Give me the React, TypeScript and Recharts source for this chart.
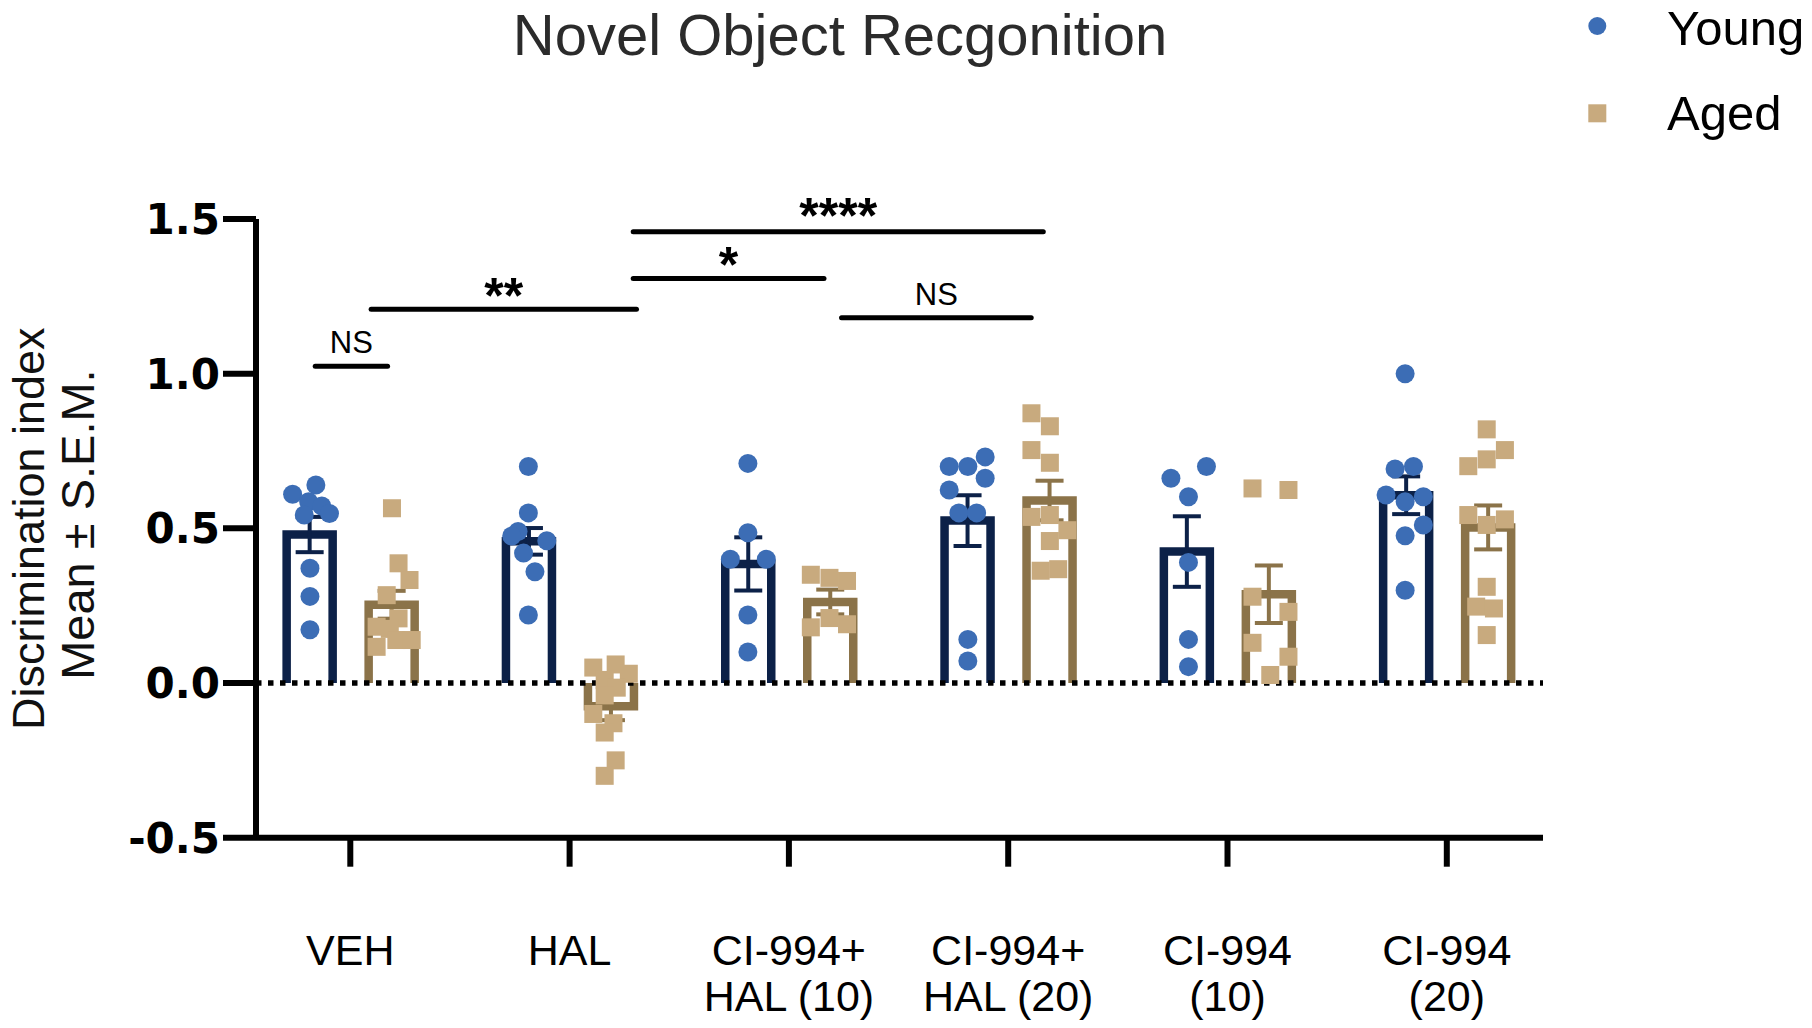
import {
  ComposedChart,
  Bar,
  Scatter,
  XAxis,
  YAxis,
  ReferenceLine,
  ErrorBar,
  Legend,
} from "recharts";

// groups on the x axis ("\n" splits the tick label into two lines)
const groups = [
  "VEH",
  "HAL",
  "CI-994+\nHAL (10)",
  "CI-994+\nHAL (20)",
  "CI-994\n(10)",
  "CI-994\n(20)",
];
const yTicks = [-0.5, 0, 0.5, 1.0, 1.5];

// bar heights (mean) and S.E.M.
const youngMean = [0.48, 0.458, 0.385, 0.525, 0.425, 0.607];
const youngSem = [0.057, 0.043, 0.086, 0.082, 0.114, 0.061];
const agedMean = [0.253, -0.075, 0.262, 0.59, 0.287, 0.503];
const agedSem = [0.045, 0.045, 0.04, 0.064, 0.093, 0.071];

// individual animals, one list per group
const youngValues = [
  [0.64, 0.61, 0.586, 0.572, 0.548, 0.543, 0.371, 0.28, 0.172],
  [0.7, 0.55, 0.49, 0.475, 0.46, 0.42, 0.36, 0.22],
  [0.71, 0.486, 0.4, 0.4, 0.22, 0.1],
  [0.731, 0.7, 0.7, 0.662, 0.624, 0.55, 0.55, 0.141, 0.071],
  [0.7, 0.662, 0.602, 0.39, 0.141, 0.053],
  [1.0, 0.7, 0.692, 0.608, 0.602, 0.586, 0.511, 0.476, 0.3],
];
// horizontal position of each dot, relative to the group centre
const youngJitter = [
  [-0.157, -0.263, -0.19, -0.13, -0.095, -0.21, -0.184, -0.184, -0.184],
  [-0.188, -0.188, -0.235, -0.264, -0.104, -0.21, -0.158, -0.188],
  [-0.187, -0.187, -0.267, -0.103, -0.187, -0.187],
  [-0.105, -0.269, -0.184, -0.105, -0.269, -0.225, -0.144, -0.184, -0.184],
  [-0.096, -0.258, -0.178, -0.178, -0.178, -0.178],
  [-0.19, -0.152, -0.236, -0.277, -0.107, -0.19, -0.107, -0.19, -0.19],
];
const agedValues = [
  [0.565, 0.387, 0.333, 0.284, 0.209, 0.182, 0.175, 0.139, 0.139, 0.117],
  [0.06, 0.05, 0.03, 0.01, -0.015, -0.04, -0.1, -0.13, -0.16, -0.25, -0.3],
  [0.35, 0.34, 0.33, 0.21, 0.19, 0.18],
  [0.872, 0.83, 0.753, 0.712, 0.543, 0.537, 0.494, 0.459, 0.368, 0.363],
  [0.629, 0.624, 0.279, 0.23, 0.13, 0.085, 0.026],
  [0.82, 0.753, 0.723, 0.701, 0.543, 0.529, 0.511, 0.311, 0.247, 0.241, 0.155],
];
const agedJitter = [
  [0.19, 0.22, 0.27, 0.166, 0.22, 0.12, 0.18, 0.21, 0.28, 0.12],
  [0.21, 0.108, 0.27, 0.16, 0.215, 0.16, 0.108, 0.2, 0.16, 0.21, 0.16],
  [0.1, 0.185, 0.265, 0.185, 0.265, 0.1],
  [0.106, 0.19, 0.106, 0.19, 0.19, 0.106, 0.27, 0.19, 0.228, 0.148],
  [0.114, 0.278, 0.114, 0.278, 0.114, 0.278, 0.195],
  [0.182, 0.265, 0.182, 0.098, 0.098, 0.265, 0.182, 0.182, 0.134, 0.215, 0.182],
];

// significance brackets
const sigText = ["NS", "**", "*", "****", "NS"];
const sigFrom = [-0.16, 0.095, 1.29, 1.29, 2.24];
const sigTo = [0.17, 1.305, 2.16, 3.16, 3.105];
const sigLevel = [1.024, 1.208, 1.308, 1.459, 1.181];

const YOUNG_DOT = "#3c6db5";
const YOUNG_BAR = "#0c2148";
const AGED_DOT = "#c8aa7e";
const AGED_BAR = "#8b7349";

const data = groups.map((name, i) => ({
  name,
  young: youngMean[i],
  youngErr: youngSem[i],
  aged: agedMean[i],
  agedErr: agedSem[i],
}));

const toPoints = (vals: number[][], jitter: number[][]) =>
  vals.flatMap((g, i) => g.map((v, j) => ({ x: i + jitter[i][j], y: v })));

const youngPoints = toPoints(youngValues, youngJitter);
const agedPoints = toPoints(agedValues, agedJitter);

// same negative padding on both x axes so category centres line up with numbers
const xPad = { left: -15.35, right: -13.45 };

/** bar drawn as an outline open on the zero side */
const OpenBar = (props: any) => {
  const { x, y, width, height, color, neg } = props;
  const top = Math.min(y, y + height);
  const bottom = Math.max(y, y + height);
  const closed = neg ? bottom : top;
  const open = neg ? top : bottom;
  return (
    <path
      d={`M${x},${open} L${x},${closed} L${x + width},${closed} L${x + width},${open}`}
      fill="none"
      stroke={color}
      strokeWidth={8.5}
    />
  );
};

const XTick = ({ x, y, payload }: any) => {
  const lines = String(payload.value).split("\n");
  return (
    <text textAnchor="middle" fontSize={43} fill="#000">
      {lines.map((l, i) => (
        <tspan key={i} x={x} y={y + 96 + i * 46}>
          {l}
        </tspan>
      ))}
    </text>
  );
};

const sigLabel = (text: string) => (props: any) => {
  const { viewBox } = props;
  const cx = viewBox.x + viewBox.width / 2;
  const stars = text !== "NS";
  const dy = !stars ? -13 : text.length < 4 ? 4 : 1;
  return (
    <text
      x={cx}
      y={viewBox.y + dy}
      textAnchor="middle"
      fontSize={stars ? 50 : 31}
      fontWeight={stars ? 700 : 400}
      fill="#000"
    >
      {text}
    </text>
  );
};

const yLabel = () => (
  <g fill="#111">
    <text x={36} y={520.7} fontSize={45} textAnchor="middle" transform="rotate(-90, 36, 520.7)">
      Discrimination index
    </text>
    <text x={86} y={516.6} fontSize={47} textAnchor="middle" transform="rotate(-90, 86, 516.6)">
      Mean ± S.E.M.
    </text>
  </g>
);

const renderLegend = () => (
  <svg width={226} height={140} style={{ overflow: "visible" }}>
    <circle cx={19.3} cy={18} r={9} fill={YOUNG_DOT} />
    <text x={89} y={37} fontSize={49} fill="#000">
      Young
    </text>
    <rect x={10.3} y={96.3} width={18} height={18} fill={AGED_DOT} />
    <text x={89} y={122} fontSize={49} fill="#000">
      Aged
    </text>
  </svg>
);

const App = () => {
  return (
    <div
      style={{
        position: "relative",
        width: 1796,
        height: 1012,
        fontFamily: '"Liberation Sans", Arial, sans-serif',
      }}
    >
      <div
        style={{
          position: "absolute",
          top: -2,
          left: 0,
          width: 1664,
          textAlign: "center",
          fontSize: 58,
          lineHeight: "58px",
          color: "#2b2b2b",
        }}
      >
        Novel Object Recgonition
      </div>
      <ComposedChart
        width={1796}
        height={1012}
        data={data}
        margin={{ top: 211, right: 261, bottom: 0, left: 0 }}
        barSize={46}
        barGap={36}
      >
        <XAxis
          dataKey="name"
          padding={xPad}
          height={182.3}
          interval={0}
          axisLine={{ stroke: "#000", strokeWidth: 6 }}
          tickLine={{ stroke: "#000", strokeWidth: 6 }}
          tickSize={29}
          tick={<XTick />}
        />
        <XAxis
          xAxisId="num"
          type="number"
          dataKey="x"
          domain={[-0.5, 5.5]}
          padding={xPad}
          allowDataOverflow
          hide
        />
        <YAxis
          domain={[-0.5, 1.5]}
          ticks={yTicks}
          width={248}
          allowDataOverflow
          axisLine={{ stroke: "#000", strokeWidth: 6 }}
          tickLine={{ stroke: "#000", strokeWidth: 6 }}
          tickSize={33}
          tickMargin={3}
          tick={{ fontSize: 42, fontWeight: 700, fill: "#000", fontFamily: "DejaVu Sans" }}
          tickFormatter={(v) => Number(v).toFixed(1)}
          label={{ content: yLabel }}
        />
        <Legend
          layout="vertical"
          align="center"
          verticalAlign="middle"
          content={renderLegend}
          wrapperStyle={{ top: 0, left: 1570, width: 226, height: 140 }}
        />
        <Bar
          dataKey="young"
          name="Young"
          isAnimationActive={false}
          shape={(p: any) => <OpenBar {...p} color={YOUNG_BAR} neg={p.payload.young < 0} />}
        >
          <ErrorBar dataKey="youngErr" width={14} strokeWidth={4} stroke={YOUNG_BAR} direction="y" />
        </Bar>
        <Bar
          dataKey="aged"
          name="Aged"
          isAnimationActive={false}
          shape={(p: any) => <OpenBar {...p} color={AGED_BAR} neg={p.payload.aged < 0} />}
        >
          <ErrorBar dataKey="agedErr" width={14} strokeWidth={4} stroke={AGED_BAR} direction="y" />
        </Bar>
        <ReferenceLine y={0} stroke="#000" strokeWidth={5.5} strokeDasharray="5.5 6.5" />
        {sigText.map((t, i) => (
          <ReferenceLine
            key={i}
            xAxisId="num"
            ifOverflow="visible"
            segment={[
              { x: sigFrom[i], y: sigLevel[i] },
              { x: sigTo[i], y: sigLevel[i] },
            ]}
            stroke="#000"
            strokeWidth={5}
            strokeLinecap="round"
            label={sigLabel(t)}
          />
        ))}
        <Scatter
          data={youngPoints}
          dataKey="y"
          xAxisId="num"
          name="Young"
          isAnimationActive={false}
          shape={(p: any) => <circle cx={p.cx} cy={p.cy} r={9.5} fill={YOUNG_DOT} />}
        />
        <Scatter
          data={agedPoints}
          dataKey="y"
          xAxisId="num"
          name="Aged"
          isAnimationActive={false}
          shape={(p: any) => (
            <rect x={p.cx - 9} y={p.cy - 9} width={18} height={18} fill={AGED_DOT} />
          )}
        />
      </ComposedChart>
    </div>
  );
};

export default App;
